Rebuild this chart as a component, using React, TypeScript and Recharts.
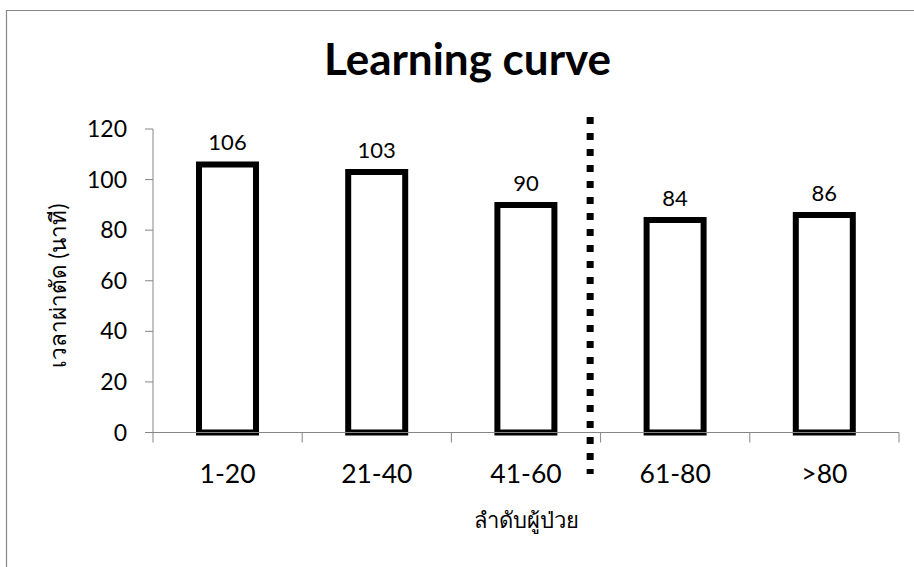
import { BarChart, Bar, XAxis, YAxis, LabelList, ReferenceLine } from "recharts";

const groups = ["1-20", "21-40", "41-60", "61-80", ">80"];
const minutes = [106, 103, 90, 84, 86];
const yTicks = [0, 20, 40, 60, 80, 100, 120];

// dotted divider: sits just right of "41-60", a bit before the 41-60 / 61-80 boundary
const dividerGroup = "41-60";
const dividerShift = 0.43; // in fractions of a category band
const dividerTop = 124.7;
const dividerBottom = -16.4;

const title = "Learning curve";
const yTitle = "เวลาผ่าตัด (นาที)";
const xTitle = "ลำดับผู้ป่วย";

const W = 914;
const H = 567;
const margin = { top: 129, right: 15, bottom: 74.5, left: 93 };
const yAxisW = 60;
const band = (W - margin.left - yAxisW - margin.right) / groups.length;

const font = "Lato, 'Noto Sans', 'DejaVu Sans', sans-serif";
const axisGrey = "#868686";

const data = groups.map((g, i) => ({ group: g, time: minutes[i] }));

const GroupTick = (props: any) => {
  const { x, y, payload, index } = props;
  const last = index === groups.length - 1;
  return (
    <g>
      <line x1={x - band / 2} x2={x - band / 2} y1={y} y2={y + 10} stroke={axisGrey} />
      {last && <line x1={x + band / 2} x2={x + band / 2} y1={y} y2={y + 10} stroke={axisGrey} />}
      <text x={x} y={y + 50.5} textAnchor="middle" fontSize={26.5} fill="#000" fontFamily={font}>
        {payload.value}
      </text>
    </g>
  );
};

const DividerLine = (props: any) => {
  const { x1, y1, x2, y2 } = props;
  const dx = dividerShift * band;
  return (
    <line
      x1={x1 + dx}
      y1={y1}
      x2={x2 + dx}
      y2={y2}
      stroke="#000"
      strokeWidth={7}
      strokeDasharray="7 9"
    />
  );
};

export default function App() {
  return (
    <div style={{ position: "fixed", left: 0, top: 0, width: W, height: H, overflow: "hidden", background: "#fff" }}>
      <BarChart
        width={W}
        height={H}
        data={data}
        margin={margin}
        style={{ position: "absolute", left: 0, top: 0, fontFamily: font }}
      >
        <XAxis
          dataKey="group"
          height={60}
          stroke={axisGrey}
          tickLine={false}
          tickSize={0}
          tickMargin={0}
          interval={0}
          tick={<GroupTick />}
        />
        <YAxis
          width={yAxisW}
          domain={[0, 120]}
          ticks={yTicks}
          interval={0}
          stroke={axisGrey}
          tickSize={8}
          tickMargin={18}
          tick={{ fill: "#000", fontSize: 23, fontFamily: font }}
        />
        <Bar
          dataKey="time"
          fill="#fff"
          stroke="#000"
          strokeWidth={6}
          barSize={57}
          isAnimationActive={false}
        >
          <LabelList dataKey="time" position="top" offset={14} fill="#000" fontSize={22} fontFamily={font} />
        </Bar>
        <ReferenceLine
          segment={[
            { x: dividerGroup, y: dividerTop },
            { x: dividerGroup, y: dividerBottom },
          ]}
          ifOverflow="visible"
          shape={<DividerLine />}
        />
      </BarChart>
      <svg width={W} height={H} style={{ position: "absolute", left: 0, top: 0, pointerEvents: "none" }}>
        <path d="M6.5 567 V10.5 H914" fill="none" stroke="#868686" strokeWidth={1.2} />
        <text x={467.5} y={75} textAnchor="middle" fontSize={44} fontWeight="bold" fill="#000" fontFamily={font}>
          {title}
        </text>
        <text
          x={57}
          y={286}
          transform="rotate(-90 57 286)"
          textAnchor="middle"
          dominantBaseline="central"
          fontSize={22.5}
          fill="#000"
          fontFamily={font}
        >
          {yTitle}
        </text>
        <text x={526} y={528} textAnchor="middle" fontSize={22} fill="#000" fontFamily={font}>
          {xTitle}
        </text>
      </svg>
    </div>
  );
}
